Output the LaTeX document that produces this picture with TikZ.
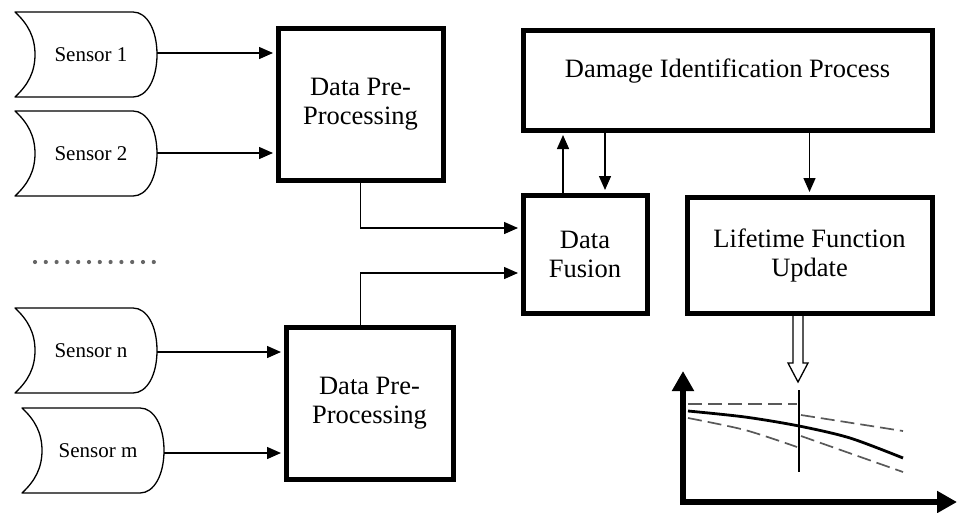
\documentclass[tikz,border=0pt]{standalone}
\usepackage{fontspec}
\setmainfont{Liberation Serif}
\usetikzlibrary{arrows.meta,calc}
\newcommand\sensorshape[1]{%
\begin{scope}[shift={#1}]
\draw[sline] (0,0) -- (118,0) .. controls (132,0) and (142,18) .. (142,42.5)
  .. controls (142,67) and (132,85) .. (118,85) -- (0,85)
  .. controls (13,73) and (20,60) .. (20,42.5)
  .. controls (20,25) and (13,12) .. cycle;
\end{scope}}
\begin{document}
\begin{tikzpicture}[x=1pt,y=-1pt,
  box/.style={draw, line width=5pt, inner sep=0pt, align=center,
              font=\fontsize{26.5}{29}\selectfont},
  sens/.style={inner sep=0pt, font=\fontsize{21}{24}\selectfont},
  sline/.style={line width=1.3pt, line join=round},
  arr/.style={line width=1.4pt, -{Triangle[length=14pt,width=12pt]}},
  dsh/.style={line width=1.7pt, draw=black!65, dash pattern=on 14pt off 6pt},
  axis/.style={line width=5.5pt, {Triangle[length=20pt,width=21pt]}-{Triangle[length=20pt,width=21pt]}}
]
\useasboundingbox (0,0) rectangle (957,512);

% sensors
\sensorshape{(15,12)}
\sensorshape{(15,111)}
\sensorshape{(15,308)}
\sensorshape{(22,408)}
\node[sens] (s1) at (91,54.5) {Sensor 1};
\node[sens] (s2) at (91,153.5) {Sensor 2};
\node[sens] (sn) at (91,350.5) {Sensor n};
\node[sens] (sm) at (98,450.5) {Sensor m};
\coordinate (s1r) at (157,53);
\coordinate (s2r) at (157,153);
\coordinate (snr) at (157,352);
\coordinate (smr) at (164,453);

% dots
\foreach \i in {0,...,11} \fill[black!60] (35+\i*10.8,262) circle (2.1);

% boxes
\node[box, minimum width=165, minimum height=152] (p1) at (360.5,104) {Data Pre-\\Processing};
\node[box, minimum width=167, minimum height=152] (p2) at (369.5,403) {Data Pre-\\Processing};
\node[box, minimum width=124, minimum height=118] (fu) at (585,254) {Data\\Fusion};
\node[box, minimum width=409, minimum height=100] (dm) at (727.5,80) {Damage Identification Process\\[-6pt]};
\node[box, minimum width=245, minimum height=116] (lf) at (809.5,255) {Lifetime Function\\Update};

% connectors
\draw[arr, shorten >=2.5pt] (s1r) -- (s1r -| p1.west);
\draw[arr, shorten >=2.5pt] (s2r) -- (s2r -| p1.west);
\draw[arr, shorten >=2.5pt] (snr) -- (snr -| p2.west);
\draw[arr, shorten >=2.5pt] (smr) -- (smr -| p2.west);
\draw[arr, shorten >=2.5pt] (p1.south) |- ($(fu.west)+(0,-26)$);
\draw[arr, shorten >=2.5pt] (p2.north -| p1.south) |- ($(fu.west)+(0,19)$);
\draw[arr, shorten >=2.5pt] ($(fu.north)+(-22,0)$) -- ($(dm.south)+(-164.5,0)$);
\draw[arr, shorten >=2.5pt] ($(dm.south)+(-122.5,0)$) -- ($(fu.north)+(20,0)$);
\draw[arr, shorten >=2.5pt] (dm.south -| lf.north) -- (lf.north);

% hollow arrow
\draw[line width=1.3pt, fill=white, line join=miter]
  (793,316) -- (793,363) -- (788,363) -- (798,382) -- (808,363) -- (803,363) -- (803,316);

% plot
\draw[axis] (683,371) -- (683,502) -- (957,502);
\draw[line width=1.3pt] (799,390) -- (799,472);
\draw[line width=2.8pt] plot[smooth] coordinates {(688,411) (745,417) (799,426) (850,438) (903,458)};
\draw[dsh] (688,404) -- (797,404);
\draw[dsh] (801,415) -- (903,431);
\draw[dsh] plot[smooth] coordinates {(688,418) (745,430) (797,447)};
\draw[dsh] (801,436) -- (903,472);
\end{tikzpicture}
\end{document}
